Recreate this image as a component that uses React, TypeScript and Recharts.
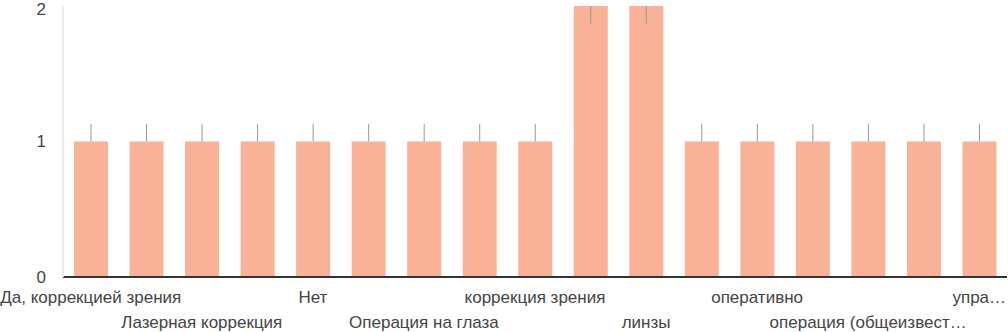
import React from "react";
import {
  BarChart,
  Bar,
  XAxis,
  YAxis,
  CartesianGrid,
  ErrorBar,
} from "recharts";

// answers (only every other label is readable in the chart)
const answers = [
  "Да, коррекцией зрения",
  "Да",
  "Лазерная коррекция",
  "Да, операция",
  "Нет",
  "Лазер",
  "Операция на глаза",
  "Да, лазерная",
  "коррекция зрения",
  "очки",
  "линзы",
  "Да, лазерная коррекция",
  "оперативно",
  "хирургия",
  "операция (общеизвест…",
  "Да, лечение",
  "упра…",
];

const counts = [1, 1, 1, 1, 1, 1, 1, 1, 1, 2, 2, 1, 1, 1, 1, 1, 1];

// annotation stems: [below, above] the bar top
const stems = [
  [0, 0.13], [0, 0.13], [0, 0.13], [0, 0.13], [0, 0.13], [0, 0.13],
  [0, 0.13], [0, 0.13], [0, 0.13], [0.13, 0], [0.13, 0], [0, 0.13],
  [0, 0.13], [0, 0.13], [0, 0.13], [0, 0.13], [0, 0.13],
];

const yTicks = [0, 0.5, 1, 1.5, 2];
const yLabels = [0, 1, 2];

const data = answers.map((name, i) => ({
  name,
  count: counts[i],
  stem: stems[i],
}));

const FONT = "'Liberation Sans', Arial, sans-serif";

function XTick(props: any) {
  const { x, y, payload, index } = props;
  if (index % 2 !== 0) return null;
  const row = (index / 2) % 2;
  return (
    <text
      x={x}
      y={y + 12 + row * 25}
      textAnchor="middle"
      dominantBaseline="central"
      fill="#444"
      fontSize={17}
      fontFamily={FONT}
    >
      {payload.value}
    </text>
  );
}

function YTick(props: any) {
  const { x, y, payload } = props;
  if (!yLabels.includes(payload.value)) return null;
  return (
    <text
      x={x}
      y={y}
      textAnchor="end"
      dominantBaseline="central"
      fill="#444"
      fontSize={17}
      fontFamily={FONT}
    >
      {payload.value}
    </text>
  );
}

export default function App() {
  return (
    <div style={{ position: "absolute", left: 0, top: 0, background: "#fff" }}>
      <BarChart
        width={1008}
        height={332}
        data={data}
        margin={{ top: 6, right: 1, bottom: 0, left: 0 }}
        barSize={34}
      >
        <CartesianGrid
          vertical={false}
          horizontalValues={[0.5, 1.5]}
          stroke="#f3f3f3"
        />
        <CartesianGrid
          vertical={false}
          horizontalValues={[1, 2]}
          stroke="#ebebeb"
          strokeWidth={2}
        />
        <XAxis
          dataKey="name"
          interval={0}
          height={55}
          tickLine={false}
          axisLine={{ stroke: "#333", strokeWidth: 2 }}
          tick={<XTick />}
        />
        <YAxis
          yAxisId="left"
          domain={[0, 2]}
          ticks={yTicks}
          width={63}
          tickLine={false}
          tickMargin={11}
          axisLine={{ stroke: "#ebebeb", strokeWidth: 2 }}
          tick={<YTick />}
        />
        <YAxis
          yAxisId="right"
          orientation="right"
          domain={[0, 2]}
          width={0}
          tick={false}
          tickLine={false}
          axisLine={{ stroke: "#f0f0f0" }}
        />
        <Bar
          yAxisId="left"
          dataKey="count"
          fill="#f9b198"
          isAnimationActive={false}
        >
          <ErrorBar
            dataKey="stem"
            direction="y"
            width={0}
            stroke="#999"
            strokeWidth={1}
            isAnimationActive={false}
          />
        </Bar>
      </BarChart>
    </div>
  );
}
